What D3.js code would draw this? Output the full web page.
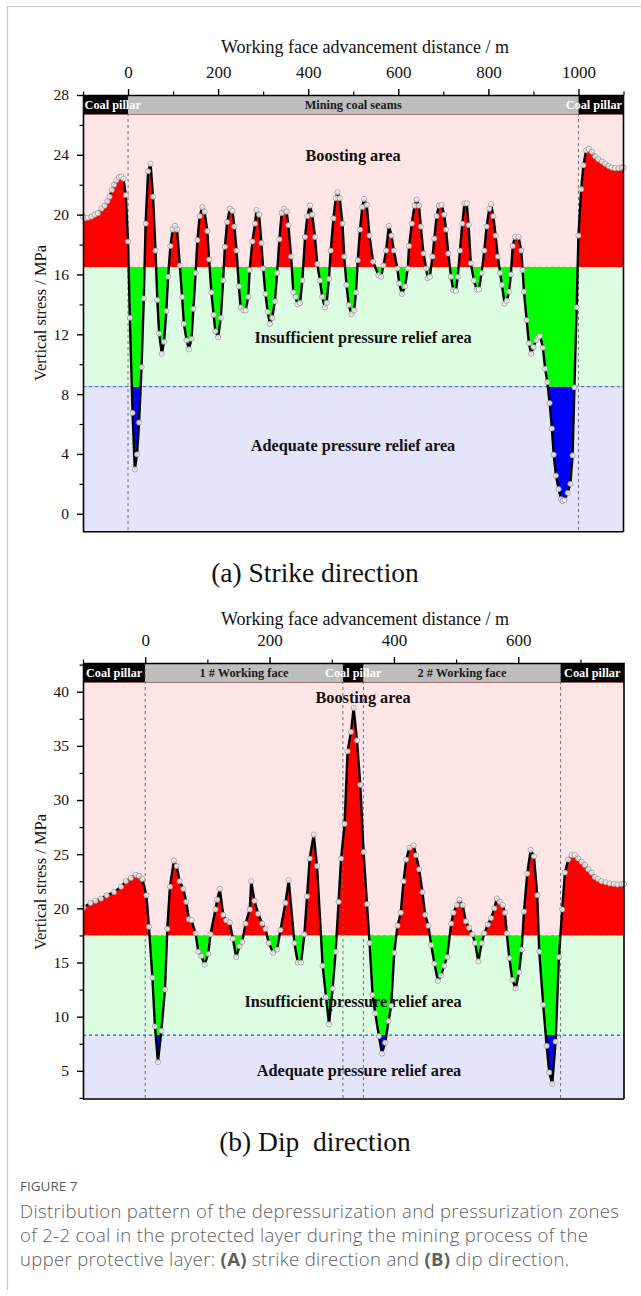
<!DOCTYPE html>
<html><head><meta charset="utf-8">
<script src="https://cdn.jsdelivr.net/npm/d3@7"></script>
<style>
body{margin:0;background:#fff;}
svg{display:block;}
</style>
</head><body>
<svg id="fig" width="641" height="1296"></svg>
<script>
// ---------------- DATA ----------------
// (a) Strike direction: advancement distance (m) and vertical stress (MPa)
const strikeDist = [-100,-96,-89,-81,-74,-67,-59,-52,-46,-41,-36,-31,-26,-20,-15,-10,-5,0,4,10,15,20,24.5,30,35,39,44.5,50,55.5,61,65,69,75,80,85,89,94,99,104,109,115,120,124,130,135,141,145,150,154,159,165,170,176,180,185,190,194,200,206,211,215,220,226,232,236,241,246,250,256,261,267,270,276,282,285,291,296,300,305,310,315,320,326,331,336,341,346,352,356,362,367,372,376,382,387,393,398,404,409,415,420,426,431,437,441,446,450,456,461,465,470,476,480,485,490,496,502,506,510,515,520,524,530,536,544,556,562,567,573,579,585,590,598,602,608,615,621,624,630,636,641,646,650,656,662,665,670,676,680,685,690,696,702,706,711,717,722,728,732,737,742,747,752,756,761,768,774,779,785,791,796,802,806,811,816,821,826,830,836,841,846,850,854,859,867,873,876,879,885,890,895,900,906,911,915,921,926,931,936,941,945,950,956,961,965,969,976,982,987,991,996,1000,1006,1011,1017,1023,1030,1037,1044,1052,1059,1067,1074,1081,1089,1096,1100];
const strikeStress = [19.87,19.76,19.8,19.87,20.0,20.1,20.4,20.6,20.9,21.2,21.65,22.0,22.3,22.5,22.55,22.4,21.3,18.2,13.1,6.75,2.97,3.97,6.1,9.8,14.4,19.4,22.9,23.4,21.2,17.6,14.3,12.05,10.7,11.5,13.55,15.85,17.9,19.0,19.25,19.0,16.6,14.5,12.7,11.6,11.0,11.7,13.7,16.1,18.3,19.9,20.5,20.2,18.9,17.0,14.8,13.3,12.2,11.8,13.1,15.6,17.85,19.5,20.4,20.25,19.2,17.6,15.2,13.8,13.6,13.6,14.5,16.3,18.2,19.4,20.3,20.0,18.1,16.4,14.7,13.5,12.7,13.1,14.2,16.1,18.35,20.1,20.4,20.2,19.3,17.2,14.8,14.5,14.0,14.1,15.6,18.5,19.9,20.6,20.0,18.5,16.7,15.6,14.5,13.8,14.1,15.7,17.6,19.75,21.1,21.5,21.1,19.4,17.2,15.3,13.95,13.35,13.6,14.8,16.95,19.0,20.5,21.05,20.65,18.6,16.85,15.95,15.85,16.6,17.6,19.25,18.6,17.6,16.4,15.4,14.7,15.2,16.4,17.9,19.4,20.6,21.0,20.6,19.2,17.4,16.4,15.75,15.85,17.2,18.4,19.9,20.6,20.65,20.0,19.0,17.4,15.85,14.95,14.9,15.85,17.6,19.4,20.75,20.75,19.3,16.75,15.6,15.0,15.0,16.1,17.6,19.2,20.4,20.7,19.9,18.6,17.2,16.1,15.3,14.05,14.25,14.85,16.0,17.9,18.5,18.5,17.6,16.3,14.85,12.95,11.4,10.7,11.15,11.6,11.8,11.9,11.1,9.7,8.8,7.4,5.7,3.95,2.55,1.65,0.98,0.85,0.92,1.4,2.0,3.9,8.45,13.8,18.6,21.7,23.3,24.3,24.4,24.2,23.9,23.7,23.55,23.4,23.25,23.15,23.1,23.1,23.15,23.15];

// (b) Dip direction
const dipDist = [-99,-88,-80,-71,-62,-50,-39,-31,-23,-15,-10,-4.5,2,6,11.6,15.7,20.5,26,31.8,35.6,39.8,46.2,50.6,55.4,61.3,66.1,70.3,74.6,81,85.4,90.2,95.5,101.4,105,113,115.8,120,125.5,130.3,136,141,146.4,151.7,156,161.3,168.2,170.5,175.8,181.7,188,193.4,198.7,205.8,212.2,217.5,225.5,230.8,240,245.3,250.7,256,260.3,264.5,271,276.4,285.4,290.8,295.7,301.4,306.3,311,315,320.7,325.5,331,335.2,340.6,345.9,351.2,356.7,360.8,365.7,370,375.9,380.7,386,391.3,395.6,400.5,405.8,411,415.4,419.7,425,431.5,435.8,440.6,445.9,450.2,455.5,459.9,465.2,470.6,475.9,480.7,485.6,492,495.7,501,505.3,510.7,515.6,520.9,526.2,530.5,535.8,541.2,545.4,550.9,556.2,561.5,565.3,570.6,575,578.6,581.4,585.6,590.4,595.8,601.1,605.5,609.1,614.4,619.9,625.2,630.5,633.7,640.1,645.6,649.8,654.6,660,665.3,670.6,675,680.3,685.7,691,696.3,701.8,707,712.4,717.8,723,728.4,733.8,740.7,747.2,753.6,759.6,766,770];
const dipStress = [20.07,20.5,20.7,20.9,21.2,21.5,22.0,22.5,22.8,23.1,23.0,22.7,21.2,18.3,13.6,9.1,5.8,8.7,12.5,18.1,22.0,24.4,23.9,22.5,21.8,20.6,19.0,18.9,17.7,16.0,15.6,14.8,15.8,17.6,19.9,20.8,21.8,19.4,18.9,18.7,17.2,15.5,16.5,16.9,18.6,19.9,22.5,20.7,19.5,18.6,18.1,16.8,15.9,16.2,18.0,20.5,22.6,16.8,15.0,15.0,17.6,21.1,24.6,26.8,23.9,14.7,11.8,9.3,12.6,16.0,20.6,24.6,27.8,34.5,36.3,38.5,35.5,31.4,25.2,20.4,16.8,12.0,10.3,8.2,6.6,7.6,9.6,11.0,15.9,18.4,19.6,22.5,24.5,25.6,25.8,24.9,23.6,21.5,19.4,18.4,16.6,14.9,13.3,13.8,14.7,15.5,18.6,19.6,20.3,20.8,20.3,18.8,18.2,17.6,16.8,15.1,16.8,17.7,18.5,19.1,20.0,20.9,20.6,20.3,19.6,17.7,15.4,13.4,12.6,14.1,16.2,19.7,23.2,25.4,24.8,21.2,16.0,11.1,7.3,4.85,3.8,7.7,15.5,19.9,23.3,24.5,24.9,24.9,24.6,24.3,24.0,23.6,23.3,22.9,22.7,22.5,22.4,22.3,22.25,22.2,22.25,22.25];

// Tick values
const strikeXTicks = [0,200,400,600,800,1000];
const strikeXMinor = [-100,100,300,500,700,900,1100];
const strikeYTicks = [0,4,8,12,16,20,24,28];
const strikeYMinor = [2,6,10,14,18,22,26];
const dipXTicks = [0,200,400,600];
const dipXMinor = [-100,100,300,500,700];
const dipYTicks = [5,10,15,20,25,30,35,40];
const dipYMinor = [2.5,7.5,12.5,17.5,22.5,27.5,32.5,37.5,42.5];

// Zone thresholds (MPa)
const strikeThresholds = [16.5, 8.5];
const dipThresholds = [17.5, 8.3];

// Strip segments along the top (m)
const strikeSegStart = [-100, 0, 1000];
const strikeSegEnd = [0, 1000, 1100];
const strikeSegLabel = ["Coal pillar", "Mining coal seams", "Coal pillar"];
const strikeSegPillar = [true, false, true];
const strikeSegAnchor = ["start", "middle", "end"];
const strikeBoundaries = [0, 1000];

const dipSegStart = [-100, 0, 318, 351, 668];
const dipSegEnd = [0, 318, 351, 668, 770];
const dipSegLabel = ["Coal pillar", "1 # Working face", "Coal pillar", "2 # Working face", "Coal pillar"];
const dipSegPillar = [true, false, true, false, true];
const dipSegAnchor = ["middle", "middle", "middle", "middle", "middle"];
const dipBoundaries = [0, 318, 351, 668];

const zoneLabels = ["Boosting area", "Insufficient pressure relief area", "Adequate pressure relief area"];

// ---------------- DRAW ----------------
const svg = d3.select("#fig");
const SERIF = "'Liberation Serif','Times New Roman',serif";

// page frame
svg.append("line").attr("x1",7.5).attr("x2",7.5).attr("y1",6).attr("y2",1290).attr("stroke","#c9c9c9").attr("stroke-width",1.2);
svg.append("line").attr("x1",7).attr("x2",641).attr("y1",6.5).attr("y2",6.5).attr("stroke","#c9c9c9").attr("stroke-width",1.2);

let clipId = 0;
function panel(o) {
  const g = svg.append("g");
  const x = d3.scaleLinear().domain(o.xDomain).range([o.left, o.right]);
  const y = d3.scaleLinear().domain(o.yDomain).range([o.bottom, o.top]);
  const [hi, lo] = o.thr;
  const W = o.right - o.left;

  // zone backgrounds
  g.append("rect").attr("x",o.left).attr("y",o.top).attr("width",W).attr("height",y(hi)-o.top).attr("fill","#ffe5e5");
  g.append("rect").attr("x",o.left).attr("y",y(hi)).attr("width",W).attr("height",y(lo)-y(hi)).attr("fill","#dcfde2");
  g.append("rect").attr("x",o.left).attr("y",y(lo)).attr("width",W).attr("height",o.bottom-y(lo)).attr("fill","#e4e4fb");

  // threshold dashed lines
  g.append("line").attr("x1",o.left).attr("x2",o.right).attr("y1",y(hi)).attr("y2",y(hi))
    .attr("stroke","#e8a0a0").attr("stroke-width",0.8).attr("stroke-dasharray","3,3");
  g.append("line").attr("x1",o.left).attr("x2",o.right).attr("y1",y(lo)).attr("y2",y(lo))
    .attr("stroke",o.loColor).attr("stroke-width",1.2).attr("stroke-dasharray","3,3");

  const pts = o.dist.map((d,i)=>[d, o.stress[i]]);

  function clipRect(y0, y1) {
    const id = "clip" + (clipId++);
    svg.append("defs").append("clipPath").attr("id", id)
      .append("rect").attr("x", o.left).attr("y", y0).attr("width", W).attr("height", y1 - y0);
    return "url(#" + id + ")";
  }
  const areaHi = d3.area().x(d=>x(d[0])).y0(y(hi)).y1(d=>y(d[1]));
  const areaLo = d3.area().x(d=>x(d[0])).y0(y(lo)).y1(d=>y(d[1]));
  g.append("path").attr("d", areaHi(pts)).attr("fill","#ff0000").attr("clip-path", clipRect(o.top, y(hi)));
  g.append("path").attr("d", areaHi(pts)).attr("fill","#00ff00").attr("clip-path", clipRect(y(hi), y(lo)));
  g.append("path").attr("d", areaLo(pts)).attr("fill","#0000ff").attr("clip-path", clipRect(y(lo), o.bottom));

  // zone labels
  o.labelPos.forEach((p,i)=>{
    g.append("text").attr("x",p[0]).attr("y",p[1]).attr("text-anchor","middle")
      .attr("font-family",SERIF).attr("font-weight","bold").attr("font-size",16.3).attr("fill","#111")
      .text(zoneLabels[i]);
  });

  // vertical boundaries
  o.boundaries.forEach(b=>{
    g.append("line").attr("x1",x(b)).attr("x2",x(b)).attr("y1",o.top).attr("y2",o.bottom)
      .attr("stroke","#666").attr("stroke-width",0.9).attr("stroke-dasharray","3,3");
  });

  // curve
  g.append("path").attr("d", d3.line().x(d=>x(d[0])).y(d=>y(d[1]))(pts))
    .attr("fill","none").attr("stroke","#000").attr("stroke-width",2.4).attr("stroke-linejoin","round");
  g.selectAll(null).data(pts).enter().append("circle")
    .attr("cx",d=>x(d[0])).attr("cy",d=>y(d[1])).attr("r",2.6)
    .attr("fill","#fff").attr("fill-opacity",0.85).attr("stroke","#8a8a8a").attr("stroke-width",0.7);

  // top strip
  const bandH = 19.5;
  o.segStart.forEach((s,i)=>{
    g.append("rect").attr("x",x(s)).attr("y",o.top).attr("width",x(o.segEnd[i])-x(s)).attr("height",bandH)
      .attr("fill", o.segPillar[i] ? "#000" : "#bdbdbd");
  });
  g.append("line").attr("x1",o.left).attr("x2",o.right).attr("y1",o.top+bandH).attr("y2",o.top+bandH)
    .attr("stroke","#9a5a5a").attr("stroke-width",0.8);
  o.boundaries.forEach(b=>{
    g.append("line").attr("x1",x(b)).attr("x2",x(b)).attr("y1",o.top).attr("y2",o.top+bandH)
      .attr("stroke","#777").attr("stroke-width",0.9).attr("stroke-dasharray","3,3");
  });
  o.segStart.forEach((s,i)=>{
    const anchor = o.segAnchor[i];
    let tx = (x(s)+x(o.segEnd[i]))/2;
    if (anchor==="start") tx = x(s)+1.5;
    if (anchor==="end") tx = x(o.segEnd[i])-1.5;
    g.append("text").attr("x",tx).attr("y",o.top+bandH/2+4.2).attr("text-anchor",anchor)
      .attr("font-family",SERIF).attr("font-weight","bold").attr("font-size",12.3)
      .attr("fill", o.segPillar[i] ? "#fff" : "#1a1a1a").text(o.segLabel[i]);
  });

  // axes
  const ax = g.append("g").attr("transform",`translate(0,${o.top})`)
    .call(d3.axisTop(x).tickValues(o.xTicks).tickSize(6).tickSizeOuter(0).tickPadding(11).tickFormat(d3.format("d")));
  ax.select(".domain").attr("stroke-width",1.4);
  ax.selectAll(".tick line").attr("stroke-width",1.4);
  ax.selectAll("text").attr("font-family",SERIF).attr("font-size",17).attr("fill","#111");
  const axm = g.append("g").attr("transform",`translate(0,${o.top})`)
    .call(d3.axisTop(x).tickValues(o.xMinor).tickSize(3.5).tickFormat(""));
  axm.select(".domain").remove();
  axm.selectAll(".tick line").attr("stroke-width",1.2);

  const ay = g.append("g").attr("transform",`translate(${o.left},0)`)
    .call(d3.axisLeft(y).tickValues(o.yTicks).tickSize(6).tickSizeOuter(0).tickPadding(8).tickFormat(d3.format("d")));
  ay.select(".domain").attr("stroke-width",1.6);
  ay.selectAll(".tick line").attr("stroke-width",1.4);
  ay.selectAll("text").attr("font-family",SERIF).attr("font-size",15.5).attr("fill","#111");
  const aym = g.append("g").attr("transform",`translate(${o.left},0)`)
    .call(d3.axisLeft(y).tickValues(o.yMinor.filter(v=>v>o.yDomain[0] && v<o.yDomain[1])).tickSize(3.5).tickFormat(""));
  aym.select(".domain").remove();
  aym.selectAll(".tick line").attr("stroke-width",1.2);

  // right & bottom border
  g.append("line").attr("x1",o.right).attr("x2",o.right).attr("y1",o.top).attr("y2",o.bottom).attr("stroke","#000").attr("stroke-width",1.6);
  g.append("line").attr("x1",o.left).attr("x2",o.right).attr("y1",o.bottom).attr("y2",o.bottom).attr("stroke","#000").attr("stroke-width",1.6);

  // axis titles
  g.append("text").attr("x",o.xTitlePos[0]).attr("y",o.xTitlePos[1]).attr("text-anchor","middle")
    .attr("font-family",SERIF).attr("font-size",18).attr("fill","#111").text("Working face advancement distance / m");
  g.append("text").attr("transform",`translate(${o.yTitlePos[0]},${o.yTitlePos[1]}) rotate(-90)`).attr("text-anchor","middle")
    .attr("font-family",SERIF).attr("font-size",16.5).attr("fill","#111").text("Vertical stress / MPa");
  g.append("text").attr("x",o.subPos[0]).attr("y",o.subPos[1]).attr("text-anchor","middle")
    .attr("font-family",SERIF).attr("font-size",27.5).attr("fill","#111").style("white-space","pre").text(o.sub);
}

panel({
  left:83, right:623.5, top:95, bottom:531.7,
  xDomain:[-100,1100], yDomain:[-1.2,28],
  thr: strikeThresholds, loColor:"#6c8cf0",
  dist: strikeDist, stress: strikeStress,
  xTicks: strikeXTicks, xMinor: strikeXMinor, yTicks: strikeYTicks, yMinor: strikeYMinor,
  segStart: strikeSegStart, segEnd: strikeSegEnd, segLabel: strikeSegLabel, segPillar: strikeSegPillar, segAnchor: strikeSegAnchor,
  boundaries: strikeBoundaries,
  labelPos: [[353,161],[363,343],[353,451]],
  xTitlePos:[365,53], yTitlePos:[46,313],
  sub:"(a) Strike direction", subPos:[315,582]
});

panel({
  left:83, right:624, top:663, bottom:1099,
  xDomain:[-100,770], yDomain:[2.4,42.65],
  thr: dipThresholds, loColor:"#2d4df5",
  dist: dipDist, stress: dipStress,
  xTicks: dipXTicks, xMinor: dipXMinor, yTicks: dipYTicks, yMinor: dipYMinor,
  segStart: dipSegStart, segEnd: dipSegEnd, segLabel: dipSegLabel, segPillar: dipSegPillar, segAnchor: dipSegAnchor,
  boundaries: dipBoundaries,
  labelPos: [[363,703],[353,1007],[359,1076]],
  xTitlePos:[365,625], yTitlePos:[46,882],
  sub:"(b) Dip  direction", subPos:[315,1151]
});

// caption
const SANS = "'Open Sans','Noto Sans',sans-serif";
svg.append("text").attr("x",20).attr("y",1191).attr("font-family",SANS).attr("font-size",13.5).attr("fill","#5a5a5a").text("FIGURE 7");
const cap = [
  [["Distribution pattern of the depressurization and pressurization zones", false]],
  [["of 2-2 coal in the protected layer during the mining process of the", false]],
  [["upper protective layer: ", false], ["(A)", true], [" strike direction and ", false], ["(B)", true], [" dip direction.", false]]
];
cap.forEach((line,i)=>{
  const t = svg.append("text").attr("x",20).attr("y",1218+i*24).attr("font-family",SANS).attr("font-size",18.5)
    .attr("font-weight",300).attr("letter-spacing",0.35).attr("fill","#5e5e5e").style("white-space","pre");
  line.forEach(s=>{ t.append("tspan").attr("font-weight", s[1] ? "bold" : 300).text(s[0]); });
});
</script>
</body></html>
